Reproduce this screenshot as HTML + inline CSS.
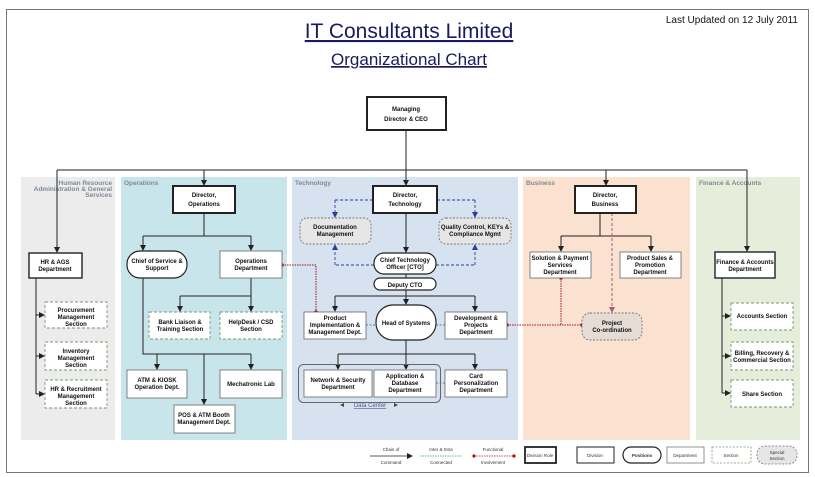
<!DOCTYPE html>
<html><head><meta charset="utf-8"><style>
html,body{margin:0;padding:0;background:#fff}
svg{display:block}
text{font-family:"Liberation Sans",Arial,sans-serif}
.b{font-size:6px;font-weight:bold;fill:#111;text-anchor:middle}
.pl{font-size:6.5px;font-weight:bold;fill:#7d8a94}
</style></head><body>
<svg width="815" height="477" viewBox="0 0 815 477" xmlns="http://www.w3.org/2000/svg">
<defs>
<marker id="a" markerWidth="6" markerHeight="6" refX="5" refY="3" orient="auto" markerUnits="userSpaceOnUse"><path d="M0,0 L6,3 L0,6z" fill="#222"/></marker>
<marker id="ab" markerWidth="6" markerHeight="6" refX="5" refY="3" orient="auto" markerUnits="userSpaceOnUse"><path d="M0,0 L6,3 L0,6z" fill="#2b3f9a"/></marker>
<marker id="ap" markerWidth="6" markerHeight="6" refX="5" refY="3" orient="auto" markerUnits="userSpaceOnUse"><path d="M0,0 L6,3 L0,6z" fill="#a0607a"/></marker>
</defs>
<rect x="6.5" y="9.5" width="802" height="463" fill="#fff" stroke="#777" stroke-width="1"/>
<text x="409" y="38" font-size="21" fill="#1a1a5e" text-anchor="middle" text-decoration="underline">IT Consultants Limited</text>
<text x="409" y="65" font-size="17" fill="#1a1a5e" text-anchor="middle" text-decoration="underline">Organizational Chart</text>
<text x="798" y="23" font-size="10" fill="#111" text-anchor="end">Last Updated on 12 July 2011</text>

<rect x="21" y="177" width="94" height="263" fill="#ececec"/>
<rect x="121" y="177" width="166" height="263" fill="#c9e5ec"/>
<rect x="292" y="177" width="226" height="263" fill="#d6e2ef"/>
<rect x="523" y="177" width="167" height="263" fill="#fbe1cf"/>
<rect x="696" y="177" width="104" height="263" fill="#e6eddb"/>
<text class="pl" x="112" y="185" text-anchor="end" font-size="5.5">Human Resource</text>
<text class="pl" x="112" y="191" text-anchor="end" font-size="5.5">Administration &amp; General</text>
<text class="pl" x="112" y="197" text-anchor="end" font-size="5.5">Services</text>
<text class="pl" x="124" y="185">Operations</text>
<text class="pl" x="295" y="185">Technology</text>
<text class="pl" x="526" y="185">Business</text>
<text class="pl" x="699" y="185" font-size="5.5">Finance &amp; Accounts</text>

<g stroke="#222" stroke-width="1" fill="none">
<line x1="406" y1="130" x2="406" y2="170"/>
<line x1="57" y1="170" x2="747" y2="170"/>
<line x1="57" y1="170" x2="57" y2="252" marker-end="url(#a)"/>
<line x1="204" y1="170" x2="204" y2="185" marker-end="url(#a)"/>
<line x1="406" y1="170" x2="406" y2="185" marker-end="url(#a)"/>
<line x1="606" y1="170" x2="606" y2="185" marker-end="url(#a)"/>
<line x1="747" y1="170" x2="747" y2="251" marker-end="url(#a)"/>
<path d="M36 278 V394"/>
<line x1="36" y1="315" x2="44" y2="315" marker-end="url(#a)"/>
<line x1="36" y1="356" x2="44" y2="356" marker-end="url(#a)"/>
<line x1="36" y1="394" x2="44" y2="394" marker-end="url(#a)"/>
<path d="M204 213 V236 M143 236 H251"/>
<line x1="143" y1="236" x2="143" y2="250" marker-end="url(#a)"/>
<line x1="251" y1="236" x2="251" y2="250" marker-end="url(#a)"/>
<path d="M251 278 V296 M180 296 H251"/>
<line x1="180" y1="296" x2="180" y2="311" marker-end="url(#a)"/>
<line x1="251" y1="296" x2="251" y2="311" marker-end="url(#a)"/>
<path d="M143 278 V354 H251"/>
<line x1="157" y1="354" x2="157" y2="369" marker-end="url(#a)"/>
<line x1="251" y1="354" x2="251" y2="369" marker-end="url(#a)"/>
<line x1="204" y1="354" x2="204" y2="404" marker-end="url(#a)"/>
<line x1="406" y1="213" x2="406" y2="252" marker-end="url(#a)"/>
<line x1="406" y1="274" x2="406" y2="278"/>
<path d="M406 290 V296 M335 296 H475"/>
<line x1="335" y1="296" x2="335" y2="311" marker-end="url(#a)"/>
<line x1="406" y1="296" x2="406" y2="304" marker-end="url(#a)"/>
<line x1="475" y1="296" x2="475" y2="311" marker-end="url(#a)"/>
<path d="M406 340 V354 M338 354 H475"/>
<line x1="338" y1="354" x2="338" y2="369" marker-end="url(#a)"/>
<line x1="406" y1="354" x2="406" y2="369" marker-end="url(#a)"/>
<line x1="475" y1="354" x2="475" y2="369" marker-end="url(#a)"/>
<path d="M600 213 V236 M561 236 H651"/>
<line x1="561" y1="236" x2="561" y2="251" marker-end="url(#a)"/>
<line x1="651" y1="236" x2="651" y2="251" marker-end="url(#a)"/>
<path d="M722 278 V393"/>
<line x1="722" y1="316" x2="730" y2="316" marker-end="url(#a)"/>
<line x1="722" y1="356" x2="730" y2="356" marker-end="url(#a)"/>
<line x1="722" y1="393" x2="730" y2="393" marker-end="url(#a)"/>
</g>
<g stroke="#2b3f9a" stroke-width="0.9" fill="none" stroke-dasharray="3,2">
<path d="M373 200 H335"/><line x1="335" y1="200" x2="335" y2="217" marker-end="url(#ab)"/>
<path d="M437 200 H475"/><line x1="475" y1="200" x2="475" y2="217" marker-end="url(#ab)"/>
<path d="M374 265 H335"/><line x1="335" y1="265" x2="335" y2="245" marker-end="url(#ab)"/>
<path d="M436 265 H475"/><line x1="475" y1="265" x2="475" y2="245" marker-end="url(#ab)"/>
</g>
<line x1="612" y1="213" x2="612" y2="312" stroke="#a0607a" stroke-width="1" stroke-dasharray="3,2" marker-end="url(#ap)"/>
<g stroke="#3d8a8a" stroke-width="1" stroke-dasharray="2,1.5" fill="none">
<line x1="366" y1="325" x2="376" y2="325"/><line x1="436" y1="325" x2="445" y2="325"/>
<line x1="436" y1="383" x2="445" y2="383"/>
</g>
<g stroke="#a01818" stroke-width="1" stroke-dasharray="1.5,1" fill="none">
<path d="M282 265 H316 V312"/>
<path d="M507 325 H582"/>
<path d="M561 278 V325"/>
</g>
<g fill="#b01010"><circle cx="282" cy="265" r="1.8"/><circle cx="316" cy="312" r="1.8"/><circle cx="507" cy="325" r="1.8"/><circle cx="582" cy="325" r="1.8"/><circle cx="561" cy="278" r="1.8"/></g>

<rect x="298.5" y="364.5" width="142" height="38" rx="5" fill="none" stroke="#666" stroke-width="1"/>
<text x="370" y="407" font-size="6" fill="#4a5a8a" text-anchor="middle" text-decoration="underline">Data Center</text>
<path d="M340 405 l4 -2 v4z M398 405 l-4 -2 v4z" fill="#444"/>

<g fill="#fff" stroke="#222">
<rect x="367" y="97" width="79" height="33" stroke-width="2"/>
<rect x="173" y="186" width="62" height="27" stroke-width="2"/>
<rect x="373" y="186" width="64" height="27" stroke-width="2"/>
<rect x="575" y="186" width="61" height="27" stroke-width="2"/>
<rect x="29" y="253" width="53" height="25" stroke-width="1.4"/>
<rect x="715" y="252" width="60" height="26" stroke-width="1.4"/>
<rect x="127" y="251" width="60" height="27" rx="13" stroke-width="1.2"/>
<rect x="374" y="253" width="62" height="21" rx="10" stroke-width="1.2"/>
<rect x="374" y="278" width="62" height="12" rx="6" stroke-width="1.2"/>
<rect x="376" y="305" width="60" height="35" rx="17" stroke-width="1.2"/>
<g stroke="#666" stroke-width="0.8">
<rect x="220" y="251" width="62" height="27"/>
<rect x="127" y="370" width="60" height="28"/>
<rect x="220" y="370" width="62" height="28"/>
<rect x="174" y="405" width="61" height="28"/>
<rect x="304" y="312" width="62" height="27"/>
<rect x="445" y="312" width="62" height="27"/>
<rect x="304" y="370" width="68" height="27"/>
<rect x="374" y="370" width="62" height="27"/>
<rect x="445" y="370" width="62" height="27"/>
<rect x="530" y="252" width="61" height="26"/>
<rect x="620" y="252" width="61" height="26"/>
</g>
<g stroke="#7a9a6a" stroke-width="0.9" stroke-dasharray="3,2">
<rect x="45" y="302" width="62" height="26"/>
<rect x="45" y="342" width="62" height="28"/>
<rect x="45" y="380" width="62" height="28"/>
<rect x="149" y="312" width="61" height="27"/>
<rect x="220" y="312" width="62" height="27"/>
<rect x="731" y="303" width="62" height="27"/>
<rect x="731" y="342" width="62" height="28"/>
<rect x="731" y="380" width="62" height="27"/>
</g>
<g stroke="#777" stroke-width="0.9" stroke-dasharray="2,1.5" fill="#e6e6e6">
<rect x="300" y="218" width="71" height="26" rx="7"/>
<rect x="439" y="218" width="72" height="26" rx="7"/>
<rect x="582" y="313" width="60" height="27" rx="8" fill="#e5dcd6"/>
</g>
</g>

<text class="b" x="406" y="111" font-size="7.5">Managing</text><text class="b" x="406" y="121" font-size="7.5">Director &amp; CEO</text>
<text class="b" x="204" y="197" font-size="7">Director,</text><text class="b" x="204" y="206" font-size="7">Operations</text>
<text class="b" x="405" y="197" font-size="7">Director,</text><text class="b" x="405" y="206" font-size="7">Technology</text>
<text class="b" x="605" y="197" font-size="7">Director,</text><text class="b" x="605" y="206" font-size="7">Business</text>
<text class="b" x="55" y="264">HR &amp; AGS</text><text class="b" x="55" y="271">Department</text>
<text class="b" x="745" y="264">Finance &amp; Accounts</text><text class="b" x="745" y="271">Department</text>
<text class="b" x="76" y="312">Procurement</text><text class="b" x="76" y="319">Management</text><text class="b" x="76" y="326">Section</text>
<text class="b" x="76" y="353">Inventory</text><text class="b" x="76" y="360">Management</text><text class="b" x="76" y="367">Section</text>
<text class="b" x="76" y="391">HR &amp; Recruitment</text><text class="b" x="76" y="398">Management</text><text class="b" x="76" y="405">Section</text>
<text class="b" x="157" y="263">Chief of Service &amp;</text><text class="b" x="157" y="270">Support</text>
<text class="b" x="251" y="263">Operations</text><text class="b" x="251" y="270">Department</text>
<text class="b" x="180" y="324">Bank Liaison &amp;</text><text class="b" x="180" y="331">Training Section</text>
<text class="b" x="251" y="324">HelpDesk / CSD</text><text class="b" x="251" y="331">Section</text>
<text class="b" x="157" y="382">ATM &amp; KIOSK</text><text class="b" x="157" y="389">Operation Dept.</text>
<text class="b" x="251" y="386">Mechatronic Lab</text>
<text class="b" x="204" y="417">POS &amp; ATM Booth</text><text class="b" x="204" y="424">Management Dept.</text>
<text class="b" x="335" y="229">Documentation</text><text class="b" x="335" y="236">Management</text>
<text class="b" x="475" y="229">Quality Control, KEYs &amp;</text><text class="b" x="475" y="236">Compliance Mgmt</text>
<text class="b" x="405" y="262">Chief Technology</text><text class="b" x="405" y="269">Officer [CTO]</text>
<text class="b" x="405" y="287">Deputy CTO</text>
<text class="b" x="335" y="320">Product</text><text class="b" x="335" y="327">Implementation &amp;</text><text class="b" x="335" y="334">Management Dept.</text>
<text class="b" x="406" y="325">Head of Systems</text>
<text class="b" x="476" y="320">Development &amp;</text><text class="b" x="476" y="327">Projects</text><text class="b" x="476" y="334">Department</text>
<text class="b" x="338" y="382">Network &amp; Security</text><text class="b" x="338" y="389">Department</text>
<text class="b" x="405" y="378">Application &amp;</text><text class="b" x="405" y="385">Database</text><text class="b" x="405" y="392">Department</text>
<text class="b" x="476" y="378">Card</text><text class="b" x="476" y="385">Personalization</text><text class="b" x="476" y="392">Department</text>
<text class="b" x="560" y="260">Solution &amp; Payment</text><text class="b" x="560" y="267">Services</text><text class="b" x="560" y="274">Department</text>
<text class="b" x="650" y="260">Product Sales &amp;</text><text class="b" x="650" y="267">Promotion</text><text class="b" x="650" y="274">Department</text>
<text class="b" x="612" y="325">Project</text><text class="b" x="612" y="332">Co-ordination</text>
<text class="b" x="762" y="318">Accounts Section</text>
<text class="b" x="762" y="355">Billing, Recovery &amp;</text><text class="b" x="762" y="362">Commercial Section</text>
<text class="b" x="762" y="396">Share Section</text>

<g font-size="4.5" fill="#333" text-anchor="middle">
<text x="391" y="451">Chain of</text><text x="391" y="464">Command</text>
<text x="441" y="451">Inter &amp; Intra</text><text x="441" y="464">Connected</text>
<text x="493" y="451">Functional</text><text x="493" y="464">Involvement</text>
</g>
<line x1="370" y1="456" x2="412" y2="456" stroke="#222" stroke-width="0.8" marker-end="url(#a)"/>
<line x1="420" y1="456" x2="462" y2="456" stroke="#3d8a8a" stroke-width="0.8" stroke-dasharray="1.5,1"/>
<line x1="474" y1="456" x2="514" y2="456" stroke="#a01818" stroke-width="0.8" stroke-dasharray="1.5,1"/>
<circle cx="474" cy="456" r="1.6" fill="#b01010"/><circle cx="514" cy="456" r="1.6" fill="#b01010"/>
<g fill="#fff" stroke="#222">
<rect x="525" y="447" width="31" height="16" stroke-width="1.8"/>
<rect x="577" y="447" width="37" height="16" stroke-width="1"/>
<rect x="623" y="447" width="38" height="16" rx="8" stroke-width="1.2"/>
<rect x="667" y="447" width="37" height="16" stroke="#666" stroke-width="0.7"/>
<rect x="712" y="447" width="39" height="16" stroke="#7a9a6a" stroke-width="0.8" stroke-dasharray="2,1.5"/>
<rect x="757" y="446" width="40" height="18" rx="8" fill="#e6e6e6" stroke="#777" stroke-width="0.8" stroke-dasharray="2,1.5"/>
</g>
<g font-size="4.5" fill="#333" text-anchor="middle">
<text x="540" y="457">Division Role</text>
<text x="595" y="457">Division</text>
<text x="642" y="457" font-weight="bold">Positions</text>
<text x="685" y="457">Department</text>
<text x="731" y="457">Section</text>
<text x="777" y="454">Special</text><text x="777" y="460">Section</text>
</g>
</svg>
</body></html>
